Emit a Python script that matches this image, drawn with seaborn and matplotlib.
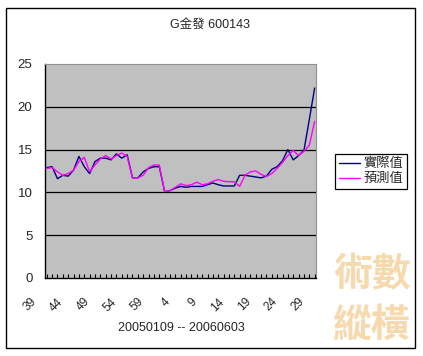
import matplotlib
matplotlib.use('Agg')
import matplotlib.pyplot as plt
import seaborn as sns
import pandas as pd
from matplotlib.lines import Line2D
from matplotlib.patches import Rectangle
from matplotlib.transforms import ScaledTranslation

sns.set_theme(style='white')
plt.rcParams['font.family'] = ['Liberation Sans', 'Noto Sans CJK TC']

title = 'G金發 600143'
x_title = '20050109 -- 20060603'
series_names = ['實際值', '預測值']

week_labels = ['39', '40', '41', '42', '43', '44', '45', '46', '47', '48',
               '49', '50', '51', '52', '53', '54', '55', '56', '57', '58',
               '59', '0', '1', '2', '3', '4', '5', '6', '7', '8',
               '9', '10', '11', '12', '13', '14', '15', '16', '17', '18',
               '19', '20', '21', '22', '23', '24', '25', '26', '27', '28',
               '29']

actual = [12.9, 13.0, 11.6, 12.0, 11.9, 12.6, 14.2, 13.0, 12.2, 13.6,
          14.0, 14.0, 13.8, 14.5, 14.0, 14.4, 11.7, 11.7, 12.4, 12.8,
          13.0, 13.0, 10.1, 10.2, 10.5, 10.7, 10.6, 10.7, 10.7, 10.7,
          10.9, 11.1, 10.9, 10.75, 10.75, 10.75, 12.0, 12.0, 11.9, 11.8,
          11.7, 11.9, 12.7, 13.0, 13.7, 15.0, 13.8, 14.3, 14.9, 18.5,
          22.2]

predicted = [12.8, 12.9, 12.4, 12.0, 12.2, 12.6, 13.6, 14.1, 12.4, 13.2,
             13.9, 14.3, 13.9, 14.3, 14.6, 14.2, 11.7, 11.7, 12.0, 12.9,
             13.2, 13.2, 10.1, 10.2, 10.6, 11.0, 10.8, 10.9, 11.2, 10.9,
             11.0, 11.3, 11.5, 11.3, 11.25, 11.25, 10.7, 12.0, 12.4, 12.5,
             12.1, 11.85, 12.2, 12.8, 13.5, 14.3, 14.9, 14.3, 14.8, 15.5,
             18.3]

y_ticks = [0, 5, 10, 15, 20, 25]
grid_levels = [5, 10, 15, 20]
colors = {'實際值': '#000080', '預測值': '#FF00FF'}

n = len(week_labels)
df = pd.DataFrame({
    'idx': list(range(n)) * 2,
    'value': actual + predicted,
    'series': [series_names[0]] * n + [series_names[1]] * n,
})

W, H = 423, 356
fig = plt.figure(figsize=(W / 100, H / 100), dpi=100)
fig.patch.set_facecolor('white')

ax = fig.add_axes([45 / W, (H - 278) / H, 271 / W, 214 / H])
ax.set_facecolor('#C0C0C0')
for lv in grid_levels:
    ax.axhline(lv, color='black', lw=0.9, zorder=1)

sns.lineplot(data=df, x='idx', y='value', hue='series', palette=colors,
             linewidth=1.0, ax=ax, legend=False, zorder=3)

ax.set_xlim(-0.33, n - 1 + 0.25)
ax.set_ylim(0, 25)
ax.set_yticks(y_ticks)
ax.set_yticklabels([str(v) for v in y_ticks])
ax.set_xlabel('')
ax.set_ylabel('')

ax.set_xticks(list(range(0, n, 5)))
ax.set_xticklabels([week_labels[i] for i in range(0, n, 5)], rotation=45,
                   ha='right', va='top', fontsize=8.5)
ax.set_xticks(list(range(n)), minor=True)
ax.tick_params(axis='x', which='both', direction='in', length=3, width=0.8,
               color='black', bottom=True, pad=2)
ax.tick_params(axis='y', length=0, pad=9, labelsize=9.5)
off = ScaledTranslation(-8 / 100, -15 / 100, fig.dpi_scale_trans)
for lab in ax.get_xticklabels():
    lab.set_transform(lab.get_transform() + off)

for side in ['left', 'bottom']:
    ax.spines[side].set_color('black')
    ax.spines[side].set_linewidth(1.0)
for side in ['top', 'right']:
    ax.spines[side].set_color('#909090')
    ax.spines[side].set_linewidth(0.8)

# watermark
fig.text(372 / W, 1 - 275 / H, '術數', fontsize=28, color='#F7D9AE',
         ha='center', va='center', fontweight='bold',
         family=['Noto Sans CJK TC'], zorder=0)
fig.text(372 / W, 1 - 325 / H, '縱橫', fontsize=28, color='#F7D9AE',
         ha='center', va='center', fontweight='bold',
         family=['Noto Sans CJK TC'], zorder=0)

fig.text(210 / W, 1 - 25 / H, title, ha='center', va='center', fontsize=9)
fig.text(181 / W, 1 - 328 / H, x_title, ha='center', va='center', fontsize=9)

handles = [Line2D([0], [0], color=colors[s], lw=1.0) for s in series_names]
leg = fig.legend(handles, series_names, loc='center',
                 bbox_to_anchor=(371 / W, 1 - 171.5 / H), fontsize=9.5,
                 frameon=True, fancybox=False, framealpha=1,
                 edgecolor='black', handlelength=1.6, handletextpad=0.3,
                 borderpad=0.3, labelspacing=0.2, borderaxespad=0)
leg.get_frame().set_linewidth(0.9)

fig.patches.append(Rectangle((6 / W, 8 / H), 409 / W, 340 / H,
                             transform=fig.transFigure, fill=False,
                             edgecolor='black', lw=1.0, zorder=5))

fig.savefig('out.png', dpi=100, facecolor='white')
